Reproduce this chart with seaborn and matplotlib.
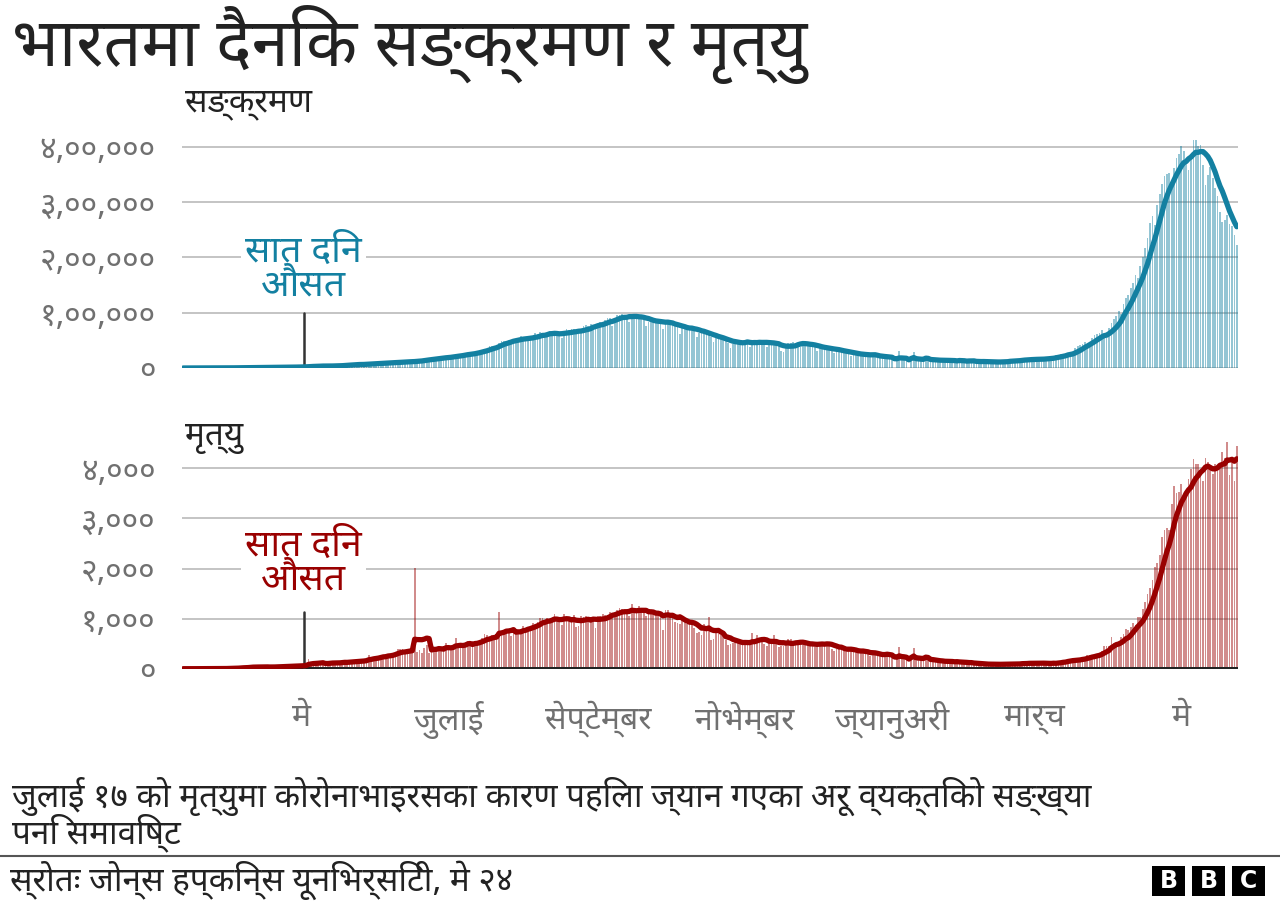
import pandas as pd
import numpy as np
import matplotlib
matplotlib.use("Agg")
import matplotlib.pyplot as plt
import seaborn as sns
from matplotlib import font_manager
from matplotlib.ft2font import FT2Font
from matplotlib.lines import Line2D
from matplotlib.patches import Rectangle

# daily new cases, India, 13 Mar 2020 - 24 May 2021 (one list per month)
cases_mar20 = [9, 20, 11, 6, 23, 14, 38, 50, 86, 66, 103, 37, 121, 70, 160, 100, 106, 227, 146]
cases_apr20 = [601, 545, 478, 513, 582, 565, 496, 540, 768, 1035, 896, 918, 1248, 1034, 886,
               1061, 922, 1371, 1580, 1239, 1537, 1292, 1667, 1408, 1835, 1607, 1561, 1873, 1738, 1801]
cases_may20 = [2396, 2564, 2952, 3656, 2971, 3587, 3364, 3344, 3339, 4311, 3592, 3604, 3524, 3763, 3942,
               4864, 5050, 4630, 6147, 5611, 5609, 6088, 6654, 6767, 6977, 6535, 6387, 7466, 7964, 8380, 8789]
cases_jun20 = [7723, 8821, 9633, 9851, 9887, 9971, 10408, 8441, 9985, 10956, 11458, 11929, 12021, 11502, 10667,
               10974, 12881, 13586, 14516, 14933, 15413, 14821, 15968, 16922, 17296, 18552, 19906, 19459, 18522, 18653]
cases_jul20 = [19148, 20903, 22771, 24850, 24248, 22252, 22752, 24879, 26506, 27114, 28637, 28701, 28498, 29429, 32695,
               34956, 34884, 38902, 40425, 37148, 37724, 45720, 49310, 48916, 48661, 49931, 47704, 48513, 52123, 55079, 57118]
cases_aug20 = [54735, 52972, 52050, 52509, 56282, 62538, 61537, 65156, 62064, 53601, 60963, 66999, 64553, 65002, 63490,
               57982, 55079, 64531, 69652, 68898, 69878, 69874, 61408, 60975, 67151, 75760, 77266, 76472, 78761, 78512, 69921]
cases_sep20 = [78357, 83883, 83341, 86432, 90632, 90802, 75809, 89706, 95735, 96551, 97570, 94372, 92071, 83809, 90123,
               97894, 96424, 93337, 92605, 86961, 75083, 83347, 86508, 86052, 85362, 88600, 82170, 70589, 80472, 86821]
cases_oct20 = [81484, 79476, 75829, 74442, 61267, 72049, 78524, 70496, 73272, 74383, 66732, 55342, 63509, 67708, 63371,
               62212, 61871, 55722, 46790, 54044, 55839, 54366, 53370, 50129, 45148, 36469, 43893, 49881, 48648, 48268, 46963]
cases_nov20 = [46964, 45231, 38310, 46253, 50210, 47638, 50357, 45674, 45903, 38073, 44281, 47905, 44879, 44684, 41100,
               30548, 29163, 38617, 45576, 45882, 46232, 45209, 44059, 37975, 44376, 44489, 43082, 41322, 41810, 38772]
cases_dec20 = [31118, 36604, 35551, 36595, 36652, 36011, 32981, 26567, 32080, 31522, 29398, 30006, 30254, 27071, 22065,
               26382, 24010, 22890, 25152, 26624, 24337, 19556, 23950, 24712, 23067, 18732, 18732, 20021, 16432, 20550, 21822]
cases_jan21 = [20035, 0, 18177, 30000, 16375, 18088, 20346, 0, 18222, 29000, 16311, 12584, 15968, 16946, 15590,
               15158, 15144, 13788, 10064, 13823, 15223, 14545, 14256, 14849, 13203, 9102, 12689, 11666, 18855, 13083, 13052]
cases_feb21 = [8635, 11039, 12899, 12408, 12713, 11713, 12059, 9110, 9927, 11067, 12923, 9309, 12143, 11649,
               9121, 11610, 12881, 13193, 13993, 13993, 14264, 10584, 13742, 16738, 16577, 16488, 16752, 15510]
cases_mar21 = [12286, 14989, 17407, 16838, 18327, 18711, 18599, 15388, 17921, 22854, 23285, 24882, 24882, 25320, 26291,
               24492, 28903, 35871, 39726, 40953, 43846, 46951, 40715, 47262, 53476, 59118, 62258, 62714, 68020, 56211, 53480]
cases_apr21 = [72330, 81466, 89129, 93249, 103558, 96982, 115736, 126789, 131968, 145384, 152879, 168912, 161736, 184372, 200739,
               217353, 234692, 261500, 273810, 259170, 295041, 314835, 332730, 346786, 349691, 352991, 323144, 360960, 379257, 386452]
cases_may21 = [401993, 392488, 368147, 357229, 382315, 412262, 414188, 401078, 403738, 366161, 329942, 348421,
               362727, 343144, 326098, 311170, 281386, 263533, 267334, 276070, 259551, 257299, 240842, 222315]

# daily deaths, same days
deaths_mar20 = [0, 1, 0, 0, 1, 0, 1, 0, 1, 3, 2, 1, 2, 3, 4, 5, 6, 3, 3]
deaths_apr20 = [12, 19, 6, 13, 22, 29, 26, 20, 42, 37, 42, 36, 31, 31, 37,
                33, 41, 27, 37, 36, 48, 52, 40, 54, 53, 48, 49, 58, 51, 71]
deaths_may20 = [66, 71, 83, 195, 126, 103, 92, 96, 108, 111, 97, 122, 136, 122, 100,
                119, 120, 134, 157, 132, 148, 137, 142, 148, 154, 175, 170, 194, 265, 194, 226]
deaths_jun20 = [204, 230, 260, 273, 294, 287, 261, 266, 331, 396, 386, 389, 311, 325, 325,
                380, 2006, 334, 375, 306, 410, 465, 312, 418, 413, 384, 410, 380, 418, 507]
deaths_jul20 = [434, 379, 442, 613, 425, 467, 482, 487, 551, 500, 475, 553, 500, 582, 606,
                687, 671, 543, 681, 587, 648, 1129, 740, 757, 705, 708, 654, 768, 775, 779, 764]
deaths_aug20 = [853, 771, 803, 857, 904, 886, 933, 1007, 1013, 871, 1007, 942, 1007, 1092, 996,
                944, 876, 1092, 977, 983, 945, 1065, 836, 848, 1059, 1023, 1057, 1021, 948, 971, 819]
deaths_sep20 = [1045, 1045, 1096, 1066, 1065, 1133, 1016, 1115, 1172, 1209, 1201, 1114, 1136, 1054, 1283,
                1132, 1174, 1247, 1133, 1130, 1053, 1085, 1129, 1141, 1089, 1124, 1039, 776, 1179, 1181]
deaths_oct20 = [1069, 1095, 940, 903, 884, 986, 964, 895, 926, 918, 816, 706, 730, 680, 895,
                837, 1033, 579, 587, 717, 702, 680, 650, 578, 480, 488, 517, 587, 563, 551, 470]
deaths_nov20 = [490, 470, 514, 704, 577, 670, 577, 559, 490, 449, 524, 547, 670, 559, 435,
                447, 449, 474, 585, 584, 562, 511, 480, 500, 482, 524, 492, 485, 496, 443]
deaths_dec20 = [482, 512, 540, 469, 524, 482, 391, 355, 402, 411, 442, 391, 336, 387, 355,
                355, 347, 341, 347, 336, 333, 301, 251, 333, 312, 279, 251, 251, 299, 299, 286]
deaths_jan21 = [256, 0, 217, 440, 201, 264, 226, 0, 222, 420, 162, 201, 219, 198, 191,
                175, 145, 137, 151, 162, 151, 163, 131, 136, 127, 137, 123, 163, 127, 113, 127]
deaths_feb21 = [94, 107, 117, 107, 101, 95, 80, 78, 84, 94, 100, 87, 83, 90,
                77, 90, 101, 97, 100, 87, 101, 78, 101, 138, 108, 113, 112, 106]
deaths_mar21 = [89, 106, 138, 108, 113, 100, 97, 77, 133, 126, 140, 158, 161, 131, 161,
                188, 188, 172, 188, 197, 199, 212, 275, 277, 275, 257, 291, 271, 354, 458, 459]
deaths_apr21 = [458, 640, 513, 478, 446, 630, 685, 794, 780, 839, 904, 879, 1027, 1038, 1185,
                1341, 1501, 1619, 1761, 2023, 2104, 2263, 2624, 2767, 2812, 2771, 3293, 3645, 3498, 3523]
deaths_may21 = [3689, 3417, 3449, 3780, 3980, 4187, 4092, 4077, 3876, 3754, 4205, 4120,
                4000, 3890, 4077, 4020, 4106, 4329, 4209, 4529, 3874, 4194, 3741, 4454]

month_starts = ["2020-05-01", "2020-07-01", "2020-09-01", "2020-11-01", "2021-01-01", "2021-03-01", "2021-05-01"]
month_labels = ["मे", "जुलाई", "सेप्टेम्बर", "नोभेम्बर", "ज्यानुअरी", "मार्च", "मे"]
case_ticks = [0, 100000, 200000, 300000, 400000]
case_labels = ["०", "१,००,०००", "२,००,०००", "३,००,०००", "४,००,०००"]
death_ticks = [0, 1000, 2000, 3000, 4000]
death_labels = ["०", "१,०००", "२,०००", "३,०००", "४,०००"]

cases = (cases_mar20 + cases_apr20 + cases_may20 + cases_jun20 + cases_jul20 + cases_aug20 + cases_sep20
         + cases_oct20 + cases_nov20 + cases_dec20 + cases_jan21 + cases_feb21 + cases_mar21 + cases_apr21 + cases_may21)
deaths = (deaths_mar20 + deaths_apr20 + deaths_may20 + deaths_jun20 + deaths_jul20 + deaths_aug20 + deaths_sep20
          + deaths_oct20 + deaths_nov20 + deaths_dec20 + deaths_jan21 + deaths_feb21 + deaths_mar21 + deaths_apr21 + deaths_may21)

df = pd.DataFrame({"date": pd.date_range("2020-03-13", periods=len(cases)), "cases": cases, "deaths": deaths})
df["cases_avg"] = df["cases"].rolling(7, min_periods=1).mean()
df["deaths_avg"] = df["deaths"].rolling(7, min_periods=1).mean()

# pick a Devanagari font that is installed
names = set()
for f in font_manager.fontManager.ttflist:
    try:
        if 0x0915 in FT2Font(f.fname).get_charmap():
            names.add(f.name)
    except Exception:
        pass
deva = "DejaVu Sans"
for cand in ["Noto Sans Devanagari", "Mukta", "Hind", "Ek Mukta", "Amiko", "FreeSans"]:
    if cand in names:
        deva = cand
        break

sns.set_style("white")
plt.rcParams["font.family"] = [deva, "DejaVu Sans"]

TEAL = "#1380A1"
RED = "#990000"
GREY = "#707070"
INK = "#222222"

fig = plt.figure(figsize=(12.8, 9.01), dpi=100)
ax1 = fig.add_axes([182 / 1280, 1 - 368 / 901, 1056 / 1280, 228 / 901])
ax2 = fig.add_axes([182 / 1280, 1 - 668.7 / 901, 1056 / 1280, 229.7 / 901])

x0 = pd.Timestamp("2020-03-12 12:00")
x1 = pd.Timestamp("2021-05-24 12:00")
pointer = pd.Timestamp("2020-05-02")


def panel(ax, col, color, ticks, labels, ymax, text_y, line_top):
    ax.bar(df["date"], df[col], width=0.72, color=color, alpha=0.45, linewidth=0, zorder=2)
    sns.lineplot(data=df, x="date", y=col + "_avg", ax=ax, color=color, lw=3.8, zorder=5)
    ax.set_xlim(x0, x1)
    ax.set_ylim(0, ymax)
    ax.set_yticks(ticks)
    ax.set_yticklabels(labels, color=GREY, fontsize=23)
    ax.tick_params(axis="y", length=0, pad=19)
    ax.grid(axis="y", color="#c4c4c4", lw=1.4, zorder=0)
    ax.set_axisbelow(True)
    for s in ax.spines.values():
        s.set_visible(False)
    ax.set_xlabel("")
    ax.set_ylabel("")
    ax.plot([pointer, pointer], [0, line_top], color="#333333", lw=1.8, zorder=4)
    ax.text(pointer, text_y, "सात दिन\nऔसत", color=color, fontsize=27, ha="center", va="center",
            linespacing=0.85, zorder=6,
            bbox=dict(facecolor="white", edgecolor="none", pad=3))


panel(ax1, "cases", TEAL, case_ticks, case_labels, 412000, 179000, 100000)
ax1.set_xticks([])

panel(ax2, "deaths", RED, death_ticks, death_labels, 4585, 2110, 1130)
ax2.axhline(0, color=INK, lw=3.6, zorder=3)
ax2.set_xticks(pd.to_datetime(month_starts))
ax2.set_xticklabels(month_labels, color=GREY, fontsize=23)
ax2.tick_params(axis="x", length=0, pad=23)

fig.text(12 / 1280, 1 - 45 / 901, "भारतमा दैनिक सङ्क्रमण र मृत्यु", fontsize=48, color=INK, va="center")
fig.text(185 / 1280, 1 - 104 / 901, "सङ्क्रमण", fontsize=24, color=INK, va="center")
fig.text(185 / 1280, 1 - 437 / 901, "मृत्यु", fontsize=24, color=INK, va="center")

fig.text(12 / 1280, 1 - 777 / 901,
         "जुलाई १७ को मृत्युमा कोरोनाभाइरसका कारण पहिला ज्यान गएका अरू व्यक्तिको सङ्ख्या\nपनि समाविष्ट",
         fontsize=24, color=INK, va="top", linespacing=0.9)
fig.add_artist(Line2D([0, 1], [1 - 856 / 901] * 2, color="#555555", lw=1.5))
fig.text(10 / 1280, 1 - 880 / 901, "स्रोतः जोन्स हप्किन्स यूनिभर्सिटी, मे २४", fontsize=24,
         color=INK, va="center")

# BBC blocks
for i, letter in enumerate("BBC"):
    left = 1152 + i * 40
    fig.add_artist(Rectangle((left / 1280, 1 - 896 / 901), 33 / 1280, 30 / 901,
                             facecolor="black", edgecolor="none", transform=fig.transFigure))
    fig.text((left + 16.5) / 1280, 1 - 881 / 901, letter, color="white", fontsize=17,
             fontweight="bold", family="DejaVu Sans", ha="center", va="center")

fig.savefig("out.png", dpi=100)
